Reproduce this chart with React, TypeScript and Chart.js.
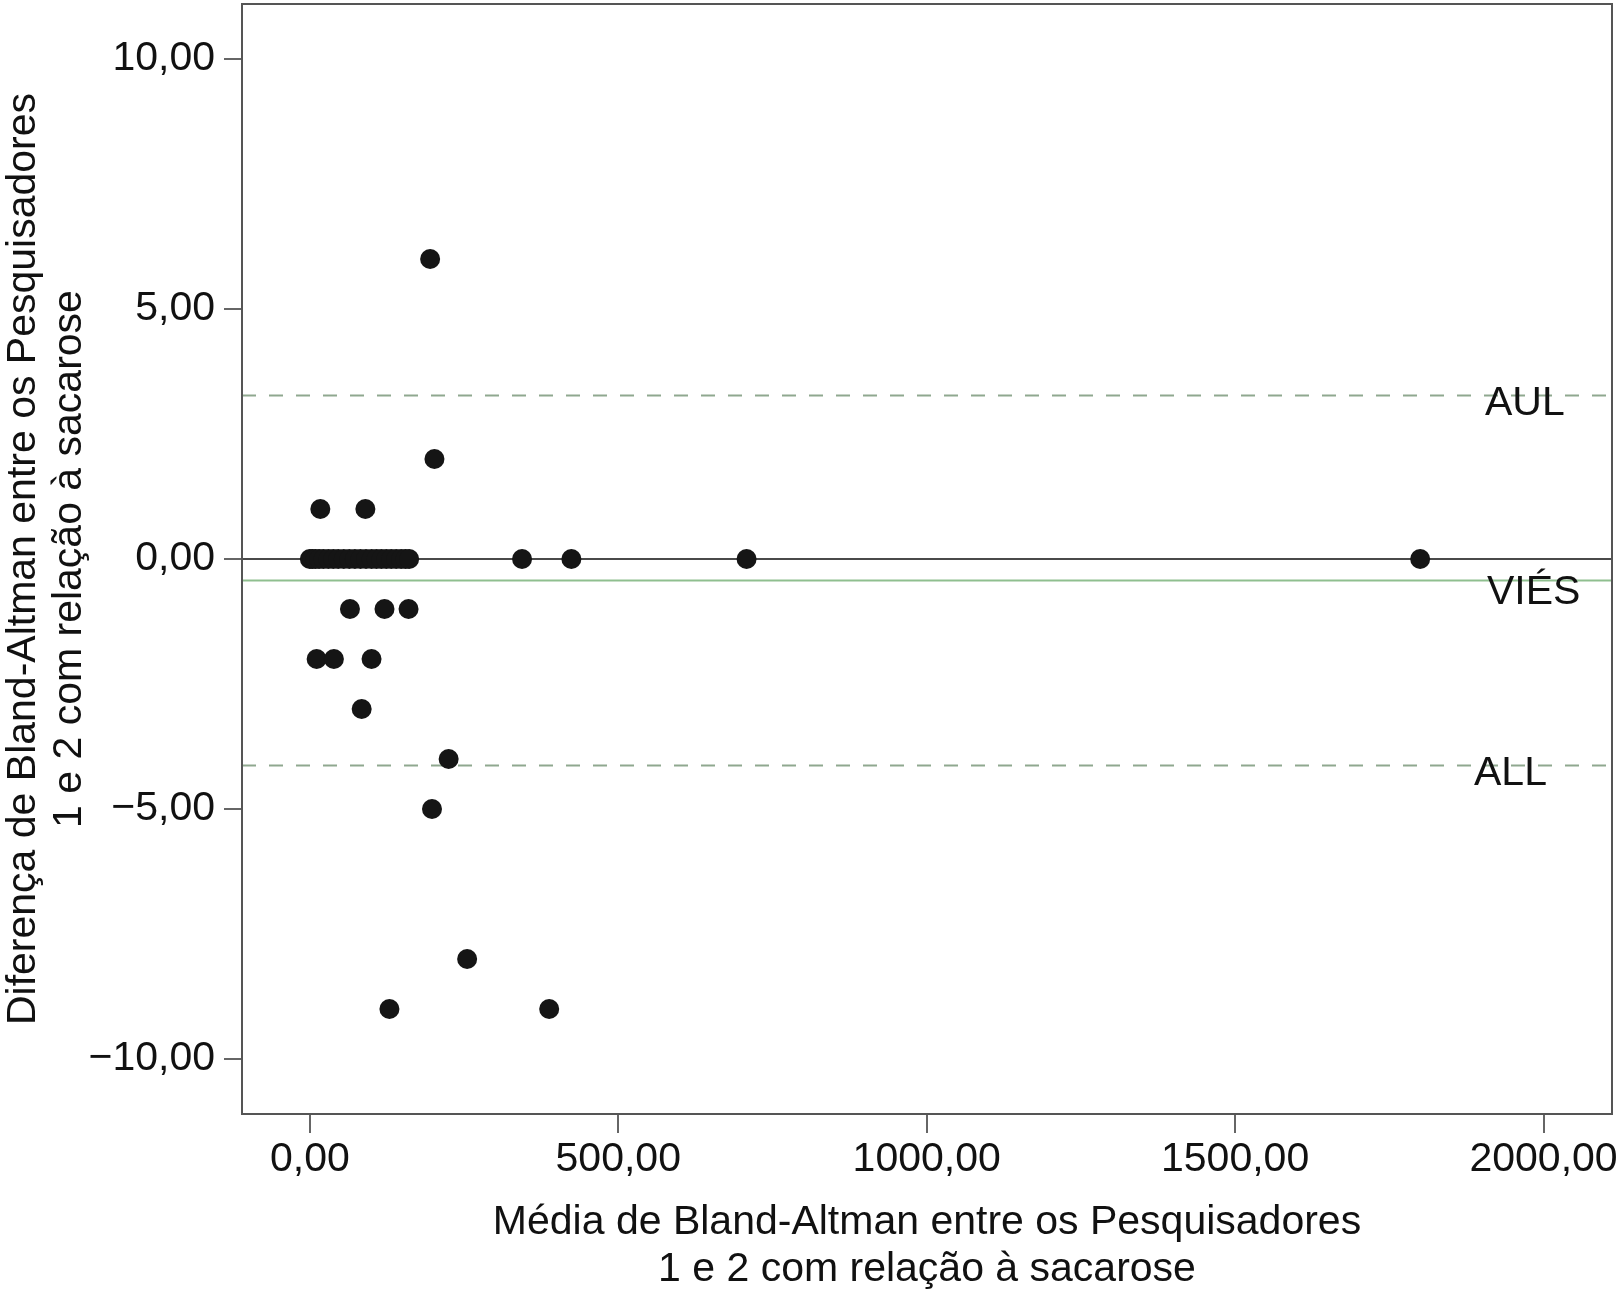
import React, { useEffect, useRef } from "react";
import { Chart, registerables } from "chart.js";

Chart.register(...registerables);

// Bland-Altman data: mean (x) and difference (y) between researchers 1 and 2
const meanValues: number[] = [
  195, 202, 17, 90,
  0, 4, 9, 15, 22, 30, 38, 46, 55, 64, 73, 82, 91, 100, 108, 116, 124, 132, 140, 148, 155, 161,
  344, 424, 708, 1800,
  65, 121, 160,
  11, 39, 100,
  84, 225, 198, 255, 129, 388,
];
const diffValues: number[] = [
  6, 2, 1, 1,
  0, 0, 0, 0, 0, 0, 0, 0, 0, 0, 0, 0, 0, 0, 0, 0, 0, 0, 0, 0, 0, 0,
  0, 0, 0, 0,
  -1, -1, -1,
  -2, -2, -2,
  -3, -4, -5, -8, -9, -9,
];

const BIAS = -0.43;
const AUL = 3.27;
const ALL = -4.13;
const ZERO = 0;

const X_MIN = -110;
const X_MAX = 2111;
const Y_MIN = -11.1;
const Y_MAX = 11.1;

const xTicks: number[] = [0, 500, 1000, 1500, 2000];
const yTicks: number[] = [-10, -5, 0, 5, 10];

const refLabels: string[] = ["AUL", "VIÉS", "ALL"];
const refValues: number[] = [AUL, BIAS, ALL];

const xTitle: string[] = [
  "Média de Bland-Altman entre os Pesquisadores",
  "1 e 2 com relação à sacarose",
];
const yTitle: string[] = [
  "Diferença de Bland-Altman entre os Pesquisadores",
  "1 e 2 com relação à sacarose",
];

const FONT = "'Liberation Sans', Arial, Helvetica, sans-serif";

const fmt = (v: number) => {
  const s = Math.abs(v).toFixed(2).replace(".", ",");
  return v < 0 ? "\u2212" + s : s;
};

const hline = (y: number) => [
  { x: X_MIN, y },
  { x: X_MAX, y },
];

export default function App() {
  const ref = useRef<HTMLCanvasElement | null>(null);

  useEffect(() => {
    if (!ref.current) return;

    const framePlugin = {
      id: "frameAndLabels",
      afterDraw(chart: any) {
        const { ctx, chartArea, scales } = chart;
        ctx.save();
        ctx.strokeStyle = "#555";
        ctx.lineWidth = 2;
        ctx.strokeRect(
          chartArea.left,
          chartArea.top,
          chartArea.right - chartArea.left,
          chartArea.bottom - chartArea.top
        );
        ctx.fillStyle = "#111";
        ctx.font = `41px ${FONT}`;
        ctx.textBaseline = "alphabetic";
        ctx.textAlign = "left";
        const xOffsets = [127, 125, 138];
        const yOffsets = [19, 23, 19];
        refLabels.forEach((lab, i) => {
          const py = scales.y.getPixelForValue(refValues[i]);
          ctx.fillText(lab, chartArea.right - xOffsets[i], py + yOffsets[i]);
        });
        ctx.restore();
      },
    };

    const lineDs = (y: number, color: string, dash: number[], width: number) => ({
      type: "line" as const,
      data: hline(y),
      borderColor: color,
      borderWidth: width,
      borderDash: dash,
      pointRadius: 0,
      fill: false,
      order: 1,
    });

    const chart = new Chart(ref.current, {
      type: "scatter",
      data: {
        datasets: [
          {
            type: "scatter",
            data: meanValues.map((x, i) => ({ x, y: diffValues[i] })),
            backgroundColor: "#151515",
            borderWidth: 0,
            pointRadius: 10,
            order: 0,
          },
          lineDs(ZERO, "#4a4a4a", [], 2),
          lineDs(BIAS, "#8fbf8f", [], 2),
          lineDs(AUL, "#8fa88f", [14, 13], 2),
          lineDs(ALL, "#8fa88f", [14, 13], 2),
        ] as any,
      },
      plugins: [framePlugin],
      options: {
        animation: false,
        responsive: false,
        devicePixelRatio: 1,
        layout: { autoPadding: false, padding: { top: 4, right: 9, bottom: 0, left: 0 } },
        plugins: {
          legend: { display: false },
          tooltip: { enabled: false },
        },
        scales: {
          x: {
            type: "linear",
            min: X_MIN,
            max: X_MAX,
            border: { display: false },
            grid: {
              drawOnChartArea: false,
              drawTicks: true,
              tickLength: 19,
              color: "#666",
              lineWidth: 2,
            },
            ticks: {
              autoSkip: false,
              maxRotation: 0,
              padding: 2,
              color: "#111",
              font: { family: FONT, size: 41, lineHeight: 1.2 },
              callback: (v: any) => fmt(Number(v)),
            },
            title: {
              display: true,
              text: xTitle,
              color: "#111",
              font: { family: FONT, size: 41, lineHeight: 1.134 },
              padding: { top: 0, bottom: 1.25 },
            },
            afterBuildTicks: (s: any) => {
              s.ticks = xTicks.map((value) => ({ value }));
            },
            afterFit: (s: any) => {
              s.height = 180;
              s.paddingLeft = 0;
              s.paddingRight = 0;
            },
          },
          y: {
            type: "linear",
            min: Y_MIN,
            max: Y_MAX,
            border: { display: false },
            grid: {
              drawOnChartArea: false,
              drawTicks: true,
              tickLength: 18,
              color: "#666",
              lineWidth: 2,
            },
            ticks: {
              autoSkip: false,
              padding: 9,
              color: "#111",
              font: { family: FONT, size: 41, lineHeight: 1.2 },
              callback: (v: any) => fmt(Number(v)),
            },
            title: {
              display: true,
              text: yTitle,
              color: "#111",
              font: { family: FONT, size: 41, lineHeight: 1.134 },
              padding: { top: 0, bottom: 0 },
            },
            afterBuildTicks: (s: any) => {
              s.ticks = yTicks.map((value) => ({ value }));
            },
            afterFit: (s: any) => {
              s.width = 242;
              s.paddingTop = 0;
              s.paddingBottom = 0;
            },
          },
        },
      } as any,
    });

    return () => chart.destroy();
  }, []);

  return (
    <div style={{ position: "absolute", left: 0, top: 0, width: 1621, height: 1294, background: "#fff" }}>
      <canvas ref={ref} width={1621} height={1294} style={{ display: "block" }} />
    </div>
  );
}
